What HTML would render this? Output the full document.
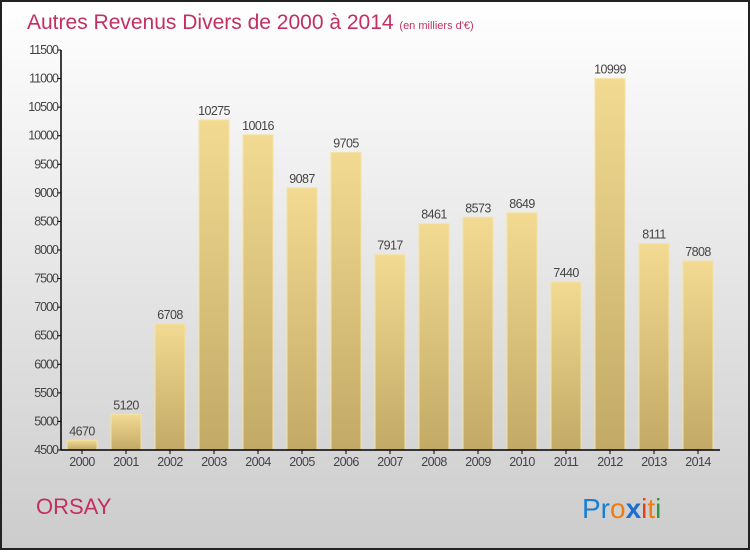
<!DOCTYPE html>
<html><head><meta charset="utf-8"><style>
body{margin:0;width:750px;height:550px;overflow:hidden;font-family:"Liberation Sans",sans-serif}
</style></head><body>
<svg id="chart" width="750" height="550" xmlns="http://www.w3.org/2000/svg">
<defs>
<linearGradient id="bg" x1="0" y1="0" x2="0" y2="1"><stop offset="0" stop-color="#ffffff"/><stop offset="1" stop-color="#cccccc"/></linearGradient>
<linearGradient id="bar" x1="0" y1="0" x2="0" y2="1"><stop offset="0" stop-color="#f2da92"/><stop offset="1" stop-color="#c2aa66"/></linearGradient>
</defs>
<rect x="1" y="1" width="748" height="548" fill="url(#bg)" stroke="#222" stroke-width="2"/>
<text x="27" y="29" font-size="21" fill="#c2305f" font-weight="normal">Autres Revenus Divers de 2000 à 2014 <tspan font-size="11">(en milliers d'€)</tspan></text>
<g id="grid"></g>
<g id="bars"></g>
<line x1="61" y1="50" x2="61" y2="450" stroke="#000" stroke-width="1.5"/>
<line x1="61" y1="450" x2="720" y2="450" stroke="#000" stroke-width="1.5"/>
<text x="36" y="514" font-size="22" fill="#c2305f">ORSAY</text>
<g font-size="28" font-family="'Liberation Sans',sans-serif">
<text x="582" y="518"><tspan fill="#1a7fd4">Pr</tspan><tspan fill="#f07c10">o</tspan><tspan fill="#1a6fd0" font-weight="bold">x</tspan><tspan fill="#e0401a">i</tspan><tspan fill="#f07c10">t</tspan><tspan fill="#2a9a3a">i</tspan></text>
</g>
</svg>
<script>
const years=["2000","2001","2002","2003","2004","2005","2006","2007","2008","2009","2010","2011","2012","2013","2014"];
const values=[4670,5120,6708,10275,10016,9087,9705,7917,8461,8573,8649,7440,10999,8111,7808];
const yTicks=[4500,5000,5500,6000,6500,7000,7500,8000,8500,9000,9500,10000,10500,11000,11500];
const NS="http://www.w3.org/2000/svg";
const y=v=>450-(v-4500)*400/7000;
const x=i=>82+i*44;
const g=document.getElementById('grid'),b=document.getElementById('bars');
function mk(tag,attrs,parent,txt){const e=document.createElementNS(NS,tag);for(const k in attrs)e.setAttribute(k,attrs[k]);if(txt!==undefined)e.textContent=txt;parent.appendChild(e);return e;}
yTicks.forEach(t=>{
 const l=mk('line',{x1:57,x2:61,y1:y(t),y2:y(t),stroke:'#000'},g);
 
 
 const tx=mk('text',{x:58,y:y(t)+4,'text-anchor':'end','font-size':12.5,fill:'#444','letter-spacing':'-1'},g,t);
 
 
});
values.forEach((v,i)=>{
 const r=mk('rect',{x:x(i)-15,y:y(v),width:30,height:450-y(v),fill:'url(#bar)',stroke:'#f5e2a2','stroke-width':1},b);
 
 
 const vl=mk('text',{x:x(i),y:y(v)-5,'text-anchor':'middle','font-size':12.5,fill:'#444','letter-spacing':'-0.6'},b,v);
 
 
 const tk=mk('line',{x1:x(i),x2:x(i),y1:450,y2:454,stroke:'#000'},b);
 
 
 const xl=mk('text',{x:x(i),y:466,'text-anchor':'middle','font-size':12.5,fill:'#444','letter-spacing':'-0.6'},b,years[i]);
 
 
});
</script>
</body></html>
